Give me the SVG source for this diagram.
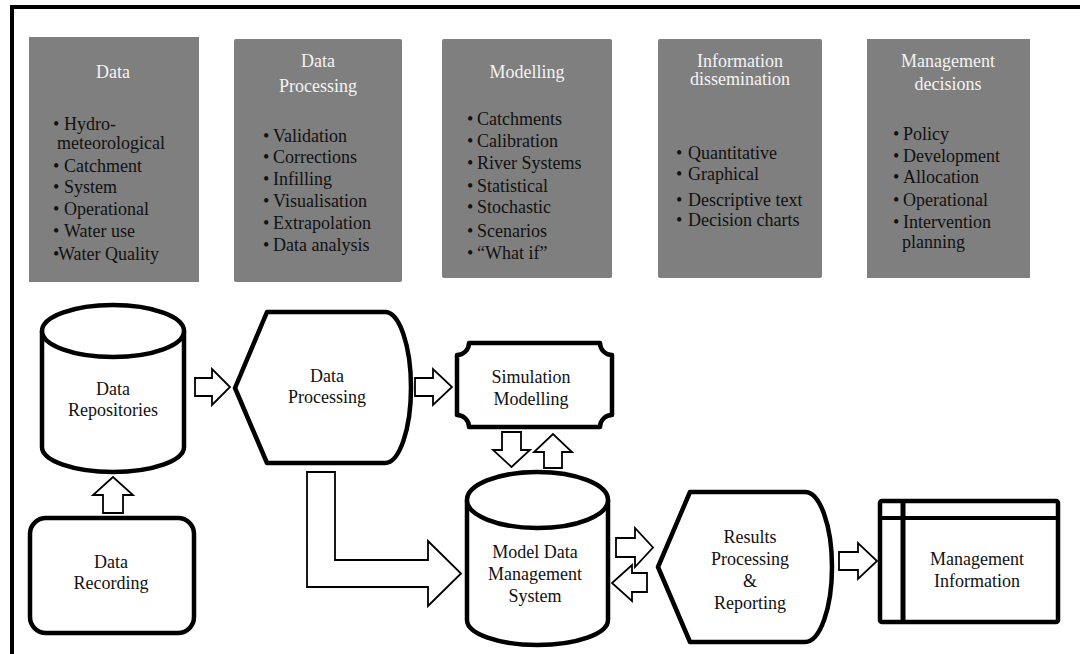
<svg xmlns="http://www.w3.org/2000/svg" width="1080" height="654" viewBox="0 0 1080 654">
<style>
text{font-family:"Liberation Serif","Times New Roman",serif;font-size:18px}
.hd{fill:#f4f4f4;text-anchor:middle}
.it{fill:#111}
.lb{fill:#111;text-anchor:middle}
.panel{fill:#7f7f7f}
.node{fill:#fff;stroke:#000;stroke-width:4.5;stroke-linejoin:round}
.arr{fill:#fff;stroke:#000;stroke-width:1.8;stroke-linejoin:miter}
</style>
<rect width="1080" height="654" fill="#fff"/>
<path d="M12,654 V7 H1080" fill="none" stroke="#000" stroke-width="4"/>

<g id="panel-data">
<rect class="panel" x="29" y="37" width="170" height="245"/>
<text class="hd" x="113" y="78">Data</text>
<text class="it" x="53" y="130">•</text><text class="it" x="64" y="130">Hydro-</text>
<text class="it" x="57" y="149">meteorological</text>
<text class="it" x="53" y="172">•</text><text class="it" x="64" y="172">Catchment</text>
<text class="it" x="53" y="193">•</text><text class="it" x="64" y="193">System</text>
<text class="it" x="53" y="215">•</text><text class="it" x="64" y="215">Operational</text>
<text class="it" x="53" y="237">•</text><text class="it" x="64" y="237">Water use</text>
<text class="it" x="53" y="260">•</text><text class="it" x="58" y="260">Water Quality</text>
</g>

<g id="panel-processing">
<rect class="panel" x="234" y="39" width="168" height="243" rx="2"/>
<text class="hd" x="318" y="67">Data</text>
<text class="hd" x="318" y="92">Processing</text>
<text class="it" x="263" y="142">•</text><text class="it" x="273" y="142">Validation</text>
<text class="it" x="263" y="163">•</text><text class="it" x="273" y="163">Corrections</text>
<text class="it" x="263" y="185">•</text><text class="it" x="273" y="185">Infilling</text>
<text class="it" x="263" y="207">•</text><text class="it" x="273" y="207">Visualisation</text>
<text class="it" x="263" y="229">•</text><text class="it" x="273" y="229">Extrapolation</text>
<text class="it" x="263" y="251">•</text><text class="it" x="273" y="251">Data analysis</text>
</g>

<g id="panel-modelling">
<rect class="panel" x="442" y="39" width="170" height="239" rx="2"/>
<text class="hd" x="527" y="78">Modelling</text>
<text class="it" x="467" y="125">•</text><text class="it" x="477" y="125">Catchments</text>
<text class="it" x="467" y="147">•</text><text class="it" x="477" y="147">Calibration</text>
<text class="it" x="467" y="169">•</text><text class="it" x="477" y="169">River Systems</text>
<text class="it" x="467" y="192">•</text><text class="it" x="477" y="192">Statistical</text>
<text class="it" x="467" y="213">•</text><text class="it" x="477" y="213">Stochastic</text>
<text class="it" x="467" y="237">•</text><text class="it" x="477" y="237">Scenarios</text>
<text class="it" x="467" y="259">•</text><text class="it" x="477" y="259">“What if”</text>
</g>

<g id="panel-dissemination">
<rect class="panel" x="658" y="39" width="164" height="239" rx="2"/>
<text class="hd" x="740" y="67">Information</text>
<text class="hd" x="740" y="85">dissemination</text>
<text class="it" x="676" y="159">•</text><text class="it" x="688" y="159">Quantitative</text>
<text class="it" x="676" y="180">•</text><text class="it" x="688" y="180">Graphical</text>
<text class="it" x="676" y="206">•</text><text class="it" x="688" y="206">Descriptive text</text>
<text class="it" x="676" y="226">•</text><text class="it" x="688" y="226">Decision charts</text>
</g>

<g id="panel-decisions">
<rect class="panel" x="867" y="39" width="163" height="239"/>
<text class="hd" x="948" y="67">Management</text>
<text class="hd" x="948" y="90">decisions</text>
<text class="it" x="893" y="140">•</text><text class="it" x="903" y="140">Policy</text>
<text class="it" x="893" y="162">•</text><text class="it" x="903" y="162">Development</text>
<text class="it" x="893" y="183">•</text><text class="it" x="903" y="183">Allocation</text>
<text class="it" x="893" y="206">•</text><text class="it" x="903" y="206">Operational</text>
<text class="it" x="893" y="228">•</text><text class="it" x="903" y="228">Intervention</text>
<text class="it" x="902" y="248">planning</text>
</g>

<g id="connectors">
<polygon class="arr" points="103,513 103,495 93,495 113,477 133,495 123,495 123,513"/>
<polygon class="arr" points="195,378 212,378 212,369 230,387 212,405 212,396 195,396"/>
<polygon class="arr" points="415,378 433,378 433,369 452,387 433,405 433,396 415,396"/>
<polygon class="arr" points="502,432 521,432 521,450 530,450 511.5,467 493,450 502,450"/>
<polygon class="arr" points="544,468 544,452 534,452 553,434 572,452 562,452 562,468"/>
<polygon class="arr" points="307,472 335,472 335,560 428,560 428,541 461,573.5 428,606 428,587 307,587"/>
<polygon class="arr" points="616,538 635,538 635,528 653,547.5 635,567 635,557 616,557"/>
<polygon class="arr" points="647,573 632,573 632,565 612,583 632,601 632,592 647,592"/>
<polygon class="arr" points="839,552 858,552 858,543 877,561 858,579 858,570 839,570"/>
</g>

<g id="node-repositories">
<path class="node" d="M42,331 V447 A71,25 0 0 0 184,447 V331"/>
<ellipse class="node" cx="113" cy="331" rx="71" ry="26"/>
<text class="lb" x="113" y="395">Data</text>
<text class="lb" x="113" y="416">Repositories</text>
</g>

<g id="node-recording">
<rect class="node" x="30" y="518" width="164" height="115" rx="16"/>
<text class="lb" x="111" y="568">Data</text>
<text class="lb" x="111" y="589">Recording</text>
</g>

<g id="node-processing">
<path class="node" d="M267,312 H385 A26,75.5 0 0 1 385,463 H267 L235,388 Z"/>
<text class="lb" x="327" y="382">Data</text>
<text class="lb" x="327" y="403">Processing</text>
</g>

<g id="node-simulation">
<path class="node" d="M469,343 H600 A12,12 0 0 0 612,355 V415 A12,12 0 0 0 600,427 H469 A12,12 0 0 0 457,415 V355 A12,12 0 0 0 469,343 Z"/>
<text class="lb" x="531" y="383">Simulation</text>
<text class="lb" x="531" y="405">Modelling</text>
</g>

<g id="node-mdms">
<path class="node" d="M467,500 V620 A70.5,25 0 0 0 608,620 V500"/>
<ellipse class="node" cx="537.5" cy="500" rx="70.5" ry="28"/>
<text class="lb" x="535" y="558">Model Data</text>
<text class="lb" x="535" y="580">Management</text>
<text class="lb" x="535" y="602">System</text>
</g>

<g id="node-results">
<path class="node" d="M690,492 H805 A27,75 0 0 1 805,642 H690 L658,567 Z"/>
<text class="lb" x="750" y="543">Results</text>
<text class="lb" x="750" y="565">Processing</text>
<text class="lb" x="750" y="587">&amp;</text>
<text class="lb" x="750" y="609">Reporting</text>
</g>

<g id="node-management-info">
<rect class="node" x="880" y="501" width="178" height="121" rx="2"/>
<line x1="880" y1="518" x2="1058" y2="518" stroke="#000" stroke-width="4"/>
<line x1="903" y1="501" x2="903" y2="622" stroke="#000" stroke-width="5"/>
<text class="lb" x="977" y="565">Management</text>
<text class="lb" x="977" y="587">Information</text>
</g>
</svg>
